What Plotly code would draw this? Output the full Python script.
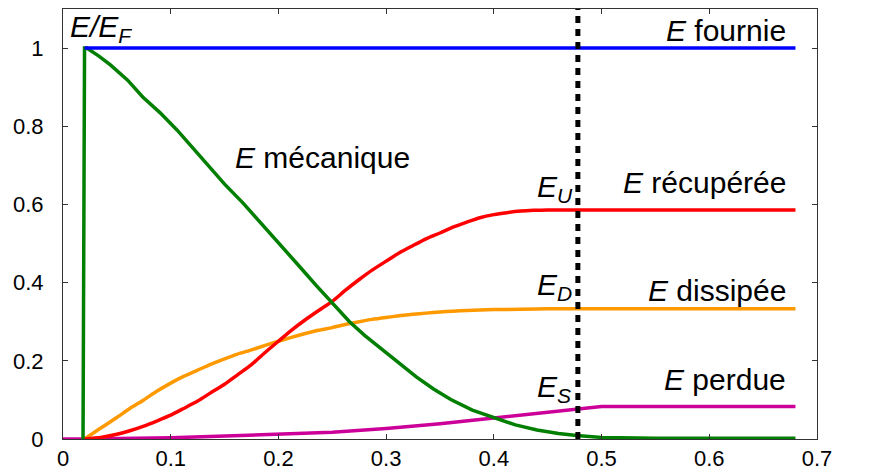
import plotly.graph_objects as go

# ---- data ----
t_fournie = [0.02, 0.68]
e_fournie = [1.0, 1.0]

t_meca = [0.0186, 0.02, 0.022, 0.033, 0.044, 0.06, 0.074, 0.09, 0.106, 0.12, 0.136, 0.15,
          0.167, 0.18, 0.195, 0.21, 0.22, 0.235, 0.25, 0.266, 0.28, 0.297, 0.313, 0.328,
          0.344, 0.36, 0.38, 0.40, 0.42, 0.44, 0.46, 0.477, 0.50, 0.55, 0.68]
e_meca = [0.0, 1.0, 1.0, 0.98, 0.957, 0.918, 0.875, 0.835, 0.79, 0.745, 0.696, 0.652,
          0.604, 0.563, 0.517, 0.47, 0.44, 0.393, 0.348, 0.30, 0.265, 0.228, 0.192, 0.159,
          0.128, 0.101, 0.074, 0.054, 0.036, 0.023, 0.014, 0.009, 0.004, 0.002, 0.002]

t_recup = [0.02, 0.035, 0.05, 0.062, 0.075, 0.087, 0.1, 0.112, 0.125, 0.137, 0.15, 0.162,
           0.175, 0.187, 0.2, 0.212, 0.225, 0.237, 0.25, 0.262, 0.275, 0.287, 0.3, 0.312,
           0.325, 0.337, 0.35, 0.362, 0.375, 0.387, 0.4, 0.412, 0.425, 0.437, 0.45, 0.68]
e_recup = [0.0, 0.004, 0.012, 0.021, 0.033, 0.046, 0.061, 0.078, 0.097, 0.118, 0.14, 0.164,
           0.19, 0.22, 0.25, 0.278, 0.305, 0.328, 0.352, 0.38, 0.408, 0.432, 0.455, 0.476,
           0.495, 0.512, 0.527, 0.542, 0.555, 0.566, 0.574, 0.579, 0.583, 0.585, 0.586, 0.586]

t_diss = [0.02, 0.035, 0.05, 0.062, 0.075, 0.087, 0.1, 0.112, 0.125, 0.137, 0.15, 0.162,
          0.175, 0.187, 0.2, 0.212, 0.225, 0.237, 0.25, 0.262, 0.275, 0.287, 0.3, 0.312,
          0.325, 0.337, 0.35, 0.362, 0.375, 0.387, 0.4, 0.425, 0.45, 0.68]
e_diss = [0.0, 0.028, 0.055, 0.078, 0.1, 0.122, 0.143, 0.16, 0.176, 0.191, 0.205, 0.217,
          0.228, 0.239, 0.25, 0.26, 0.27, 0.278, 0.285, 0.293, 0.3, 0.306, 0.311, 0.315,
          0.319, 0.322, 0.325, 0.327, 0.329, 0.330, 0.331, 0.332, 0.333, 0.333]

t_perdue = [0.0, 0.02, 0.1, 0.15, 0.2, 0.25, 0.3, 0.35, 0.4, 0.45, 0.47, 0.48, 0.49, 0.5, 0.68]
e_perdue = [0.0, 0.0, 0.003, 0.007, 0.012, 0.017, 0.027, 0.039, 0.054, 0.068, 0.075, 0.078,
            0.081, 0.083, 0.083]

t_marker = 0.478

x_ticks = [0, 0.1, 0.2, 0.3, 0.4, 0.5, 0.6, 0.7]
x_ticklabels = ["0", "0.1", "0.2", "0.3", "0.4", "0.5", "0.6", "0.7"]
y_ticks = [0, 0.2, 0.4, 0.6, 0.8, 1]
y_ticklabels = ["0", "0.2", "0.4", "0.6", "0.8", "1"]

FONT = "Liberation Sans, Arial, sans-serif"

fig = go.Figure()
fig.add_trace(go.Scatter(x=t_perdue, y=e_perdue, mode="lines",
                         line=dict(color="#CC0099", width=3.5)))
fig.add_trace(go.Scatter(x=t_diss, y=e_diss, mode="lines",
                         line=dict(color="#FF9900", width=3.5, shape="spline", smoothing=0.6)))
fig.add_trace(go.Scatter(x=t_recup, y=e_recup, mode="lines",
                         line=dict(color="#FF0000", width=3.5, shape="spline", smoothing=0.6)))
fig.add_trace(go.Scatter(x=t_meca, y=e_meca, mode="lines",
                         line=dict(color="#007F00", width=3.5)))
fig.add_trace(go.Scatter(x=t_fournie, y=e_fournie, mode="lines",
                         line=dict(color="#0000FF", width=3.5)))
fig.add_trace(go.Scatter(x=[t_marker, t_marker], y=[0, 1.1], mode="lines",
                         line=dict(color="black", width=5, dash="7px,6px")))

ann_font = dict(family=FONT, size=30, color="black")
anns = [
    dict(x=0.005, y=1.05, text="<i>E/E</i><sub><i>F</i></sub>", xanchor="left"),
    dict(x=0.673, y=1.046, text="<i>E</i> fournie", xanchor="right"),
    dict(x=0.158, y=0.721, text="<i>E</i> mécanique", xanchor="left"),
    dict(x=0.438, y=0.64, text="<i>E</i><sub><i>U</i></sub>", xanchor="left"),
    dict(x=0.673, y=0.655, text="<i>E</i> récupérée", xanchor="right"),
    dict(x=0.438, y=0.39, text="<i>E</i><sub><i>D</i></sub>", xanchor="left"),
    dict(x=0.673, y=0.381, text="<i>E</i> dissipée", xanchor="right"),
    dict(x=0.438, y=0.13, text="<i>E</i><sub><i>S</i></sub>", xanchor="left"),
    dict(x=0.673, y=0.151, text="<i>E</i> perdue", xanchor="right"),
    dict(x=0.708, y=0.028, text="<i>t</i> [s]", xanchor="left"),
]
for a in anns:
    fig.add_annotation(xref="x", yref="y", showarrow=False, yanchor="middle",
                       font=ann_font, **a)

axis_common = dict(showgrid=False, zeroline=False, showline=True, mirror="ticks",
                   linecolor="#333333", linewidth=1, ticks="inside", ticklen=5,
                   tickcolor="#333333", automargin=False,
                   tickfont=dict(family=FONT, size=22, color="black"))

fig.update_xaxes(range=[0, 0.7], tickvals=x_ticks, ticktext=x_ticklabels, **axis_common)
fig.update_yaxes(range=[0, 1.1], tickvals=y_ticks, ticktext=y_ticklabels,
                 ticklabelstandoff=14, **axis_common)

# the page body adds an 8px offset, so the figure is sized to fit the window
fig.update_layout(width=886, height=462, showlegend=False,
                  paper_bgcolor="white", plot_bgcolor="white",
                  margin=dict(l=55, r=77, t=1, b=31))

fig.write_html("out.html")
